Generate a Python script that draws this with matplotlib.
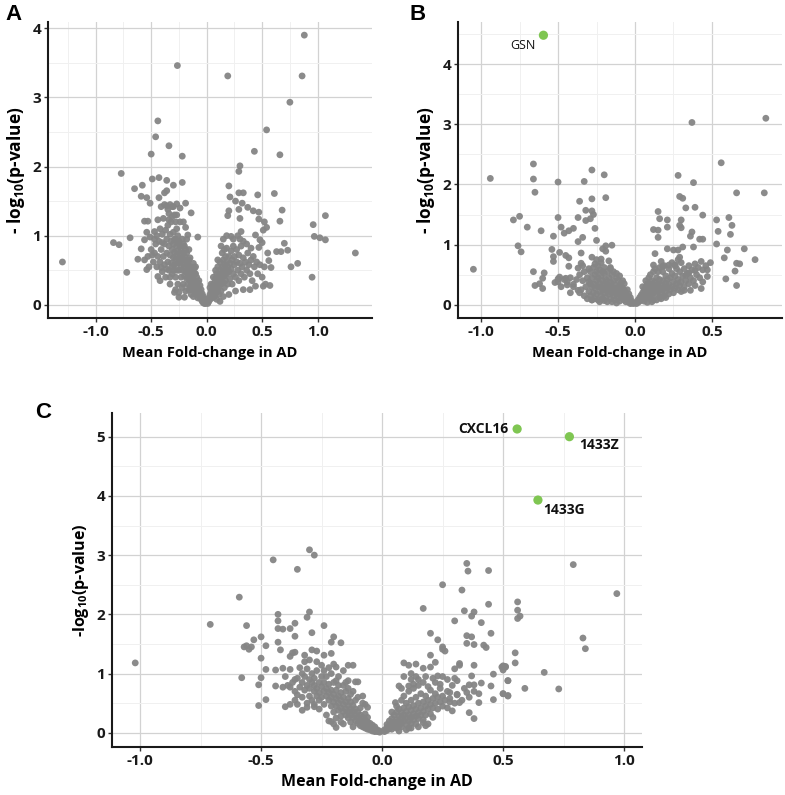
"""
Volcano plots (A, B, C): mean fold-change in AD vs -log10(p-value).
"""
import matplotlib
matplotlib.use("Agg")
import matplotlib.pyplot as plt
import numpy as np

plt.rcParams["font.family"] = ["Open Sans", "DejaVu Sans"]
plt.rcParams["mathtext.fontset"] = "custom"
plt.rcParams["mathtext.rm"] = "Open Sans:bold"
plt.rcParams["mathtext.it"] = "Open Sans:bold"
plt.rcParams["mathtext.bf"] = "Open Sans:bold"

GREY = "#858585"
GREEN = "#7fc652"

# ---- panel A: (fold-change, -log10 p) ----
a_left = [
    (-1.30, 0.62), (-0.84, 0.90), (-0.79, 0.87), (-0.77, 1.90), (-0.72, 0.47),
    (-0.69, 0.97), (-0.65, 1.68), (-0.62, 0.66), (-0.59, 1.57), (-0.59, 0.81),
    (-0.58, 1.73), (-0.56, 1.21), (-0.56, 0.94), (-0.56, 0.65), (-0.54, 1.55),
    (-0.54, 1.05), (-0.54, 0.51), (-0.53, 1.21), (-0.53, 0.70), (-0.52, 0.55),
    (-0.51, 1.47), (-0.51, 0.98), (-0.50, 2.18), (-0.50, 0.80), (-0.49, 1.82),
    (-0.47, 1.06), (-0.46, 2.43), (-0.44, 2.66), (-0.44, 1.23), (-0.44, 0.41),
    (-0.43, 1.84), (-0.43, 1.55), (-0.41, 1.42), (-0.41, 0.54), (-0.38, 1.62),
    (-0.36, 1.80), (-0.36, 1.65), (-0.36, 1.43), (-0.34, 2.30), (-0.34, 1.23),
    (-0.31, 1.28), (-0.30, 1.73), (-0.29, 0.18), (-0.27, 1.46), (-0.264, 3.46),
    (-0.25, 0.11), (-0.22, 2.15), (-0.22, 1.77), (-0.20, 0.11), (-0.19, 1.47),
    (-0.19, 1.12), (-0.17, 1.01), (-0.14, 1.33), (-0.11, 0.53), (-0.08, 0.98),
    (-0.48, 0.62), (-0.47, 0.75), (-0.46, 0.88), (-0.45, 0.55), (-0.45, 1.00),
    (-0.44, 0.70), (-0.43, 0.92), (-0.42, 0.62), (-0.42, 1.10), (-0.41, 0.80),
    (-0.40, 0.48), (-0.40, 1.02), (-0.39, 0.70), (-0.39, 1.25), (-0.38, 0.88),
    (-0.38, 0.58), (-0.37, 1.08), (-0.37, 0.40), (-0.36, 0.75), (-0.36, 0.95),
    (-0.35, 1.15), (-0.35, 0.62), (-0.35, 1.38), (-0.34, 0.85), (-0.34, 0.50),
    (-0.33, 1.02), (-0.33, 0.72), (-0.33, 0.30), (-0.32, 0.92), (-0.32, 1.20),
    (-0.32, 0.60), (-0.31, 0.80), (-0.31, 1.42), (-0.31, 0.45), (-0.30, 1.05),
    (-0.30, 0.68), (-0.30, 0.88), (-0.29, 0.58), (-0.29, 1.30), (-0.29, 0.76),
    (-0.28, 0.95), (-0.28, 0.66), (-0.28, 0.40), (-0.27, 0.85), (-0.27, 0.72),
    (-0.27, 1.10), (-0.26, 0.60), (-0.26, 0.78), (-0.26, 0.30), (-0.25, 0.92),
    (-0.25, 0.68), (-0.25, 0.50), (-0.24, 0.75), (-0.24, 0.62), (-0.24, 1.20),
    (-0.23, 0.55), (-0.23, 0.82), (-0.23, 0.40), (-0.22, 0.68), (-0.22, 0.95),
    (-0.22, 0.50), (-0.21, 0.60), (-0.21, 0.75), (-0.21, 0.30), (-0.20, 0.55),
    (-0.20, 0.85), (-0.20, 0.42), (-0.19, 0.65), (-0.19, 0.48), (-0.19, 0.20),
    (-0.18, 0.58), (-0.18, 0.38), (-0.18, 0.75), (-0.17, 0.50), (-0.17, 0.30),
    (-0.17, 0.62), (-0.16, 0.42), (-0.16, 0.55), (-0.16, 0.22), (-0.15, 0.35),
    (-0.15, 0.48), (-0.15, 0.68), (-0.14, 0.40), (-0.14, 0.28), (-0.14, 0.15),
    (-0.13, 0.35), (-0.13, 0.50), (-0.13, 0.22), (-0.12, 0.30), (-0.12, 0.42),
    (-0.12, 0.12), (-0.11, 0.25), (-0.11, 0.35), (-0.10, 0.20), (-0.10, 0.30),
    (-0.10, 0.45), (-0.09, 0.15), (-0.09, 0.26), (-0.08, 0.20), (-0.08, 0.10),
    (-0.08, 0.32), (-0.07, 0.15), (-0.07, 0.24), (-0.06, 0.10), (-0.06, 0.18),
    (-0.05, 0.08), (-0.05, 0.14), (-0.04, 0.05), (-0.04, 0.10), (-0.03, 0.06),
    (-0.03, 0.03), (-0.02, 0.04), (-0.02, 0.02), (-0.01, 0.02),
    (-0.36, 0.52), (-0.34, 1.32), (-0.33, 0.40), (-0.31, 0.55), (-0.29, 0.95),
    (-0.27, 0.50), (-0.26, 1.00), (-0.24, 0.85), (-0.23, 0.66), (-0.21, 0.88),
    (-0.20, 0.70), (-0.19, 0.80), (-0.18, 0.48), (-0.17, 0.40), (-0.16, 0.65),
    (-0.15, 0.25), (-0.14, 0.55), (-0.13, 0.42), (-0.12, 0.22), (-0.11, 0.45),
    (-0.26, 0.90), (-0.28, 1.20), (-0.30, 0.50), (-0.40, 0.90), (-0.42, 0.35),
    (-0.47, 0.95), (-0.49, 0.72), (-0.38, 1.45), (-0.33, 1.45), (-0.30, 1.42),
    (-0.27, 1.30), (-0.24, 1.40), (-0.21, 1.20), (-0.18, 0.95), (-0.16, 0.80),
    (-0.22, 0.25), (-0.25, 0.18), (-0.28, 0.22), (-0.12, 0.60), (-0.10, 0.55),
    (-0.09, 0.40), (-0.07, 0.35), (-0.06, 0.28), (-0.05, 0.22), (-0.04, 0.16),
    (-0.03, 0.12), (-0.02, 0.08),
]
a_right = [
    (0.19, 3.31), (0.43, 2.22), (0.66, 2.17), (0.30, 2.01), (0.29, 1.93),
    (0.20, 1.72), (0.21, 1.56), (0.29, 1.62), (0.33, 1.62), (0.46, 1.59),
    (0.61, 1.61), (0.26, 1.50), (0.32, 1.47), (0.37, 1.41), (0.20, 1.36),
    (0.19, 1.29), (0.29, 1.38), (0.30, 1.25), (0.42, 1.36), (0.47, 1.34),
    (0.68, 1.37), (0.66, 1.21), (0.47, 1.24), (0.52, 1.20), (0.54, 1.12),
    (0.51, 1.08), (0.96, 1.16), (1.07, 1.29), (0.97, 0.99), (1.02, 0.97),
    (1.07, 0.94), (1.34, 0.75), (0.95, 0.40), (0.70, 0.89), (0.63, 0.77),
    (0.67, 0.77), (0.73, 0.79), (0.76, 0.55), (0.82, 0.60), (0.55, 0.75),
    (0.56, 0.64), (0.58, 0.54), (0.57, 0.28), (0.51, 0.27), (0.44, 0.27),
    (0.39, 0.22), (0.33, 0.22), (0.18, 1.00), (0.22, 0.99), (0.28, 1.00),
    (0.30, 0.95), (0.31, 1.06), (0.44, 1.01), (0.48, 0.94), (0.50, 0.90),
    (0.47, 0.83), (0.54, 2.53), (0.75, 2.93), (0.88, 3.90), (0.86, 3.31),
    (0.01, 0.02), (0.02, 0.05), (0.02, 0.10), (0.03, 0.08), (0.03, 0.15),
    (0.04, 0.12), (0.04, 0.20), (0.05, 0.10), (0.05, 0.18), (0.05, 0.28),
    (0.06, 0.15), (0.06, 0.25), (0.07, 0.20), (0.07, 0.32), (0.07, 0.12),
    (0.08, 0.25), (0.08, 0.38), (0.09, 0.18), (0.09, 0.30), (0.09, 0.45),
    (0.10, 0.22), (0.10, 0.35), (0.10, 0.55), (0.11, 0.28), (0.11, 0.42),
    (0.11, 0.15), (0.12, 0.35), (0.12, 0.50), (0.12, 0.62), (0.13, 0.30),
    (0.13, 0.45), (0.13, 0.20), (0.14, 0.40), (0.14, 0.55), (0.14, 0.75),
    (0.15, 0.32), (0.15, 0.48), (0.15, 0.65), (0.16, 0.25), (0.16, 0.58),
    (0.16, 0.42), (0.17, 0.70), (0.17, 0.35), (0.17, 0.52), (0.18, 0.62),
    (0.18, 0.45), (0.18, 0.82), (0.19, 0.30), (0.19, 0.55), (0.20, 0.70),
    (0.20, 0.48), (0.20, 0.15), (0.21, 0.60), (0.21, 0.38), (0.22, 0.78),
    (0.22, 0.52), (0.23, 0.65), (0.23, 0.30), (0.24, 0.45), (0.24, 0.85),
    (0.25, 0.58), (0.25, 0.70), (0.26, 0.40), (0.26, 0.20), (0.27, 0.62),
    (0.27, 0.80), (0.28, 0.50), (0.29, 0.72), (0.29, 0.35), (0.30, 0.60),
    (0.31, 0.45), (0.31, 0.85), (0.32, 0.55), (0.33, 0.68), (0.34, 0.40),
    (0.35, 0.62), (0.36, 0.50), (0.37, 0.75), (0.38, 0.58), (0.39, 0.45),
    (0.40, 0.65), (0.41, 0.35), (0.42, 0.70), (0.43, 0.55), (0.45, 0.62),
    (0.46, 0.45), (0.48, 0.58), (0.50, 0.40), (0.52, 0.55), (0.53, 0.30),
    (0.06, 0.40), (0.08, 0.50), (0.10, 0.65), (0.13, 0.85), (0.15, 0.95),
    (0.16, 0.80), (0.24, 0.95), (0.33, 0.92), (0.36, 0.88), (0.40, 0.82),
    (0.12, 0.05), (0.15, 0.12), (0.03, 0.25), (0.04, 0.30), (0.09, 0.08),
]

# ---- panel B ----
b_left = [
    (-1.05, 0.59), (-0.94, 2.10), (-0.66, 2.34), (-0.66, 2.09), (-0.65, 1.87),
    (-0.50, 2.04), (-0.28, 2.24), (-0.20, 2.16), (-0.33, 2.05), (-0.36, 1.72),
    (-0.28, 1.76), (-0.19, 1.78), (-0.32, 1.57), (-0.28, 1.56), (-0.27, 1.50),
    (-0.29, 1.43), (-0.37, 1.45), (-0.32, 1.40), (-0.79, 1.41), (-0.75, 1.47),
    (-0.70, 1.29), (-0.61, 1.23), (-0.50, 1.45), (-0.48, 1.29), (-0.46, 1.19),
    (-0.43, 1.23), (-0.40, 1.27), (-0.26, 1.27), (-0.53, 1.14), (-0.34, 1.12),
    (-0.37, 1.05), (-0.25, 1.07), (-0.21, 0.93), (-0.19, 0.98), (-0.15, 0.99),
    (-0.76, 0.98), (-0.74, 0.88), (-0.54, 0.92), (-0.53, 0.80), (-0.53, 0.72),
    (-0.49, 0.87), (-0.45, 0.82), (-0.43, 0.78), (-0.35, 0.86), (-0.28, 0.79),
    (-0.22, 0.76), (-0.19, 0.89), (-0.17, 0.73), (-0.16, 0.62), (-0.66, 0.55),
    (-0.59, 0.53), (-0.60, 0.44), (-0.65, 0.32), (-0.62, 0.35), (-0.60, 0.27),
    (-0.52, 0.37), (-0.50, 0.43), (-0.49, 0.46), (-0.45, 0.44), (-0.44, 0.33),
    (-0.40, 0.34), (-0.42, 0.20), (-0.43, 0.64), (-0.37, 0.61), (-0.35, 0.69),
    (-0.37, 0.24), (-0.28, 0.08),
    (-0.32, 0.30), (-0.31, 0.45), (-0.30, 0.22), (-0.30, 0.38), (-0.29, 0.55),
    (-0.29, 0.15), (-0.28, 0.30), (-0.28, 0.45), (-0.27, 0.20), (-0.27, 0.62),
    (-0.27, 0.35), (-0.26, 0.10), (-0.26, 0.50), (-0.26, 0.28), (-0.25, 0.40),
    (-0.25, 0.18), (-0.25, 0.55), (-0.24, 0.30), (-0.24, 0.08), (-0.24, 0.45),
    (-0.23, 0.22), (-0.23, 0.36), (-0.23, 0.58), (-0.22, 0.15), (-0.22, 0.30),
    (-0.22, 0.48), (-0.21, 0.25), (-0.21, 0.40), (-0.21, 0.10), (-0.20, 0.33),
    (-0.20, 0.20), (-0.20, 0.52), (-0.19, 0.28), (-0.19, 0.42), (-0.19, 0.12),
    (-0.18, 0.22), (-0.18, 0.35), (-0.18, 0.05), (-0.17, 0.30), (-0.17, 0.18),
    (-0.17, 0.45), (-0.16, 0.25), (-0.16, 0.10), (-0.16, 0.38), (-0.15, 0.20),
    (-0.15, 0.30), (-0.15, 0.50), (-0.14, 0.15), (-0.14, 0.26), (-0.14, 0.40),
    (-0.13, 0.08), (-0.13, 0.22), (-0.13, 0.33), (-0.12, 0.18), (-0.12, 0.28),
    (-0.12, 0.45), (-0.11, 0.12), (-0.11, 0.24), (-0.10, 0.18), (-0.10, 0.30),
    (-0.10, 0.06), (-0.09, 0.14), (-0.09, 0.22), (-0.09, 0.36), (-0.08, 0.10),
    (-0.08, 0.18), (-0.08, 0.28), (-0.07, 0.08), (-0.07, 0.15), (-0.07, 0.24),
    (-0.06, 0.05), (-0.06, 0.12), (-0.06, 0.20), (-0.05, 0.08), (-0.05, 0.15),
    (-0.04, 0.04), (-0.04, 0.10), (-0.03, 0.06), (-0.03, 0.02), (-0.02, 0.03),
    (-0.02, 0.06), (-0.01, 0.02), (-0.35, 0.25), (-0.34, 0.40), (-0.33, 0.55),
    (-0.36, 0.50), (-0.38, 0.42), (-0.40, 0.30), (-0.42, 0.45), (-0.44, 0.38),
    (-0.46, 0.42), (-0.48, 0.30), (-0.50, 0.38), (-0.33, 0.15), (-0.31, 0.10),
    (-0.29, 0.35), (-0.26, 0.68), (-0.24, 0.65), (-0.22, 0.70), (-0.20, 0.62),
    (-0.18, 0.55), (-0.16, 0.60), (-0.14, 0.55), (-0.12, 0.52), (-0.11, 0.40),
    (-0.10, 0.48), (-0.05, 0.25), (-0.04, 0.18), (-0.03, 0.12), (-0.28, 0.08),
    (-0.23, 0.05), (-0.20, 0.07), (-0.15, 0.05), (-0.12, 0.03), (-0.36, 0.20),
    (-0.30, 0.60), (-0.34, 0.65), (-0.25, 0.75), (-0.21, 0.55), (-0.08, 0.40),
    (-0.07, 0.35),
]
b_right = [
    (0.56, 2.36), (0.28, 2.15), (0.38, 2.03), (0.66, 1.86), (0.84, 1.86),
    (0.29, 1.80), (0.31, 1.77), (0.15, 1.55), (0.33, 1.61), (0.39, 1.62),
    (0.44, 1.49), (0.16, 1.43), (0.21, 1.41), (0.30, 1.41), (0.21, 1.29),
    (0.29, 1.32), (0.30, 1.28), (0.12, 1.25), (0.15, 1.24), (0.15, 1.12),
    (0.37, 1.21), (0.36, 1.14), (0.42, 1.09), (0.44, 1.09), (0.53, 1.41),
    (0.61, 1.45), (0.63, 1.32), (0.54, 1.22), (0.62, 1.17), (0.53, 1.01),
    (0.21, 0.93), (0.25, 0.91), (0.28, 0.91), (0.31, 0.96), (0.38, 0.96),
    (0.29, 0.79), (0.13, 0.85), (0.60, 0.91), (0.71, 0.93), (0.78, 0.75),
    (0.58, 0.78), (0.66, 0.69), (0.68, 0.68), (0.65, 0.56), (0.59, 0.43),
    (0.66, 0.32), (0.49, 0.70), (0.46, 0.65), (0.47, 0.58), (0.47, 0.47),
    (0.44, 0.38), (0.43, 0.27), (0.39, 0.32), (0.36, 0.24), (0.32, 0.24),
    (0.33, 0.49), (0.17, 0.72), (0.18, 0.64), (0.22, 0.66), (0.12, 0.66),
    (0.26, 0.65), (0.35, 0.53), (0.39, 0.57), (0.37, 3.03), (0.85, 3.10),
    (0.01, 0.02), (0.02, 0.04), (0.02, 0.08), (0.03, 0.06), (0.03, 0.12),
    (0.04, 0.08), (0.04, 0.16), (0.05, 0.10), (0.05, 0.20), (0.06, 0.14),
    (0.06, 0.25), (0.06, 0.06), (0.07, 0.18), (0.07, 0.30), (0.08, 0.12),
    (0.08, 0.24), (0.08, 0.35), (0.09, 0.18), (0.09, 0.28), (0.10, 0.10),
    (0.10, 0.22), (0.10, 0.34), (0.11, 0.16), (0.11, 0.28), (0.11, 0.40),
    (0.12, 0.20), (0.12, 0.32), (0.12, 0.08), (0.13, 0.25), (0.13, 0.38),
    (0.14, 0.18), (0.14, 0.30), (0.14, 0.45), (0.15, 0.22), (0.15, 0.35),
    (0.16, 0.12), (0.16, 0.28), (0.16, 0.42), (0.17, 0.20), (0.17, 0.33),
    (0.18, 0.25), (0.18, 0.40), (0.18, 0.55), (0.19, 0.15), (0.19, 0.30),
    (0.20, 0.22), (0.20, 0.36), (0.20, 0.48), (0.21, 0.28), (0.21, 0.42),
    (0.22, 0.18), (0.22, 0.34), (0.23, 0.25), (0.23, 0.45), (0.24, 0.30),
    (0.24, 0.52), (0.25, 0.20), (0.25, 0.38), (0.26, 0.28), (0.26, 0.48),
    (0.27, 0.35), (0.27, 0.60), (0.28, 0.25), (0.28, 0.42), (0.29, 0.32),
    (0.29, 0.55), (0.30, 0.38), (0.30, 0.22), (0.31, 0.48), (0.32, 0.30),
    (0.32, 0.60), (0.33, 0.40), (0.34, 0.52), (0.35, 0.35), (0.35, 0.65),
    (0.36, 0.45), (0.37, 0.58), (0.38, 0.40), (0.39, 0.68), (0.40, 0.50),
    (0.41, 0.62), (0.42, 0.45), (0.43, 0.72), (0.44, 0.58), (0.05, 0.30),
    (0.07, 0.40), (0.09, 0.45), (0.10, 0.50), (0.12, 0.55), (0.13, 0.60),
    (0.15, 0.55), (0.16, 0.62), (0.19, 0.65), (0.22, 0.60), (0.24, 0.70),
    (0.26, 0.66), (0.28, 0.75), (0.30, 0.70), (0.14, 0.08), (0.17, 0.10),
    (0.20, 0.12), (0.08, 0.04), (0.11, 0.05),
]
b_hits = [(-0.595, 4.48)]
b_hit_names = ["GSN"]

# ---- panel C ----
c_left = [
    (-1.02, 1.18), (-0.59, 2.29), (-0.71, 1.83), (-0.56, 1.81), (-0.53, 1.57),
    (-0.50, 1.62), (-0.57, 1.45), (-0.56, 1.47), (-0.55, 1.41), (-0.54, 1.45),
    (-0.50, 1.26), (-0.58, 0.93), (-0.50, 0.93), (-0.51, 0.81), (-0.51, 0.46),
    (-0.45, 2.92), (-0.30, 3.09), (-0.28, 3.00), (-0.35, 2.76), (-0.48, 0.56),
    (-0.43, 2.00), (-0.43, 1.89), (-0.43, 1.76), (-0.41, 1.75), (-0.38, 1.76),
    (-0.36, 1.85), (-0.31, 1.95), (-0.30, 2.04), (-0.24, 1.81), (-0.29, 1.69),
    (-0.36, 1.63), (-0.20, 1.62), (-0.21, 1.53), (-0.17, 1.52), (-0.48, 1.47),
    (-0.43, 1.53), (-0.42, 1.40), (-0.37, 1.35), (-0.38, 1.29), (-0.36, 1.36),
    (-0.32, 1.31), (-0.32, 1.20), (-0.29, 1.40), (-0.27, 1.38), (-0.24, 1.31),
    (-0.21, 1.34), (-0.30, 1.23), (-0.25, 1.14), (-0.20, 1.16), (-0.19, 1.11),
    (-0.14, 1.14), (-0.12, 1.14), (-0.16, 1.05), (-0.48, 1.07), (-0.44, 1.06),
    (-0.41, 1.09), (-0.38, 1.07), (-0.44, 0.79), (-0.41, 0.77), (-0.38, 0.77),
    (-0.36, 0.90), (-0.34, 0.77), (-0.35, 0.64), (-0.36, 0.55), (-0.40, 0.44),
    (-0.38, 0.48), (-0.35, 0.48), (-0.33, 0.38), (-0.31, 0.43), (-0.28, 0.44),
    (-0.28, 0.48), (-0.19, 0.09), (-0.21, 0.19), (-0.11, 0.86), (-0.10, 0.86),
    (-0.14, 0.88), (-0.08, 0.62), (-0.07, 0.48), (-0.06, 0.43),
    (-0.33, 0.85), (-0.33, 1.00), (-0.32, 0.72), (-0.32, 0.95), (-0.31, 0.80),
    (-0.31, 1.08), (-0.30, 0.62), (-0.30, 0.90), (-0.30, 0.75), (-0.29, 0.85),
    (-0.29, 1.00), (-0.29, 0.55), (-0.28, 0.70), (-0.28, 0.92), (-0.28, 0.80),
    (-0.27, 0.62), (-0.27, 1.05), (-0.27, 0.75), (-0.26, 0.85), (-0.26, 0.55),
    (-0.26, 0.68), (-0.25, 0.78), (-0.25, 0.95), (-0.25, 0.60), (-0.24, 0.70),
    (-0.24, 0.48), (-0.24, 0.85), (-0.23, 0.62), (-0.23, 0.75), (-0.23, 0.95),
    (-0.22, 0.55), (-0.22, 0.68), (-0.22, 0.82), (-0.21, 0.45), (-0.21, 0.60),
    (-0.21, 0.72), (-0.20, 0.52), (-0.20, 0.65), (-0.20, 0.85), (-0.20, 0.35),
    (-0.19, 0.58), (-0.19, 0.45), (-0.19, 0.72), (-0.18, 0.50), (-0.18, 0.62),
    (-0.18, 0.38), (-0.18, 0.80), (-0.17, 0.42), (-0.17, 0.55), (-0.17, 0.68),
    (-0.17, 0.28), (-0.16, 0.48), (-0.16, 0.36), (-0.16, 0.60), (-0.15, 0.40),
    (-0.15, 0.52), (-0.15, 0.30), (-0.15, 0.70), (-0.14, 0.35), (-0.14, 0.46),
    (-0.14, 0.25), (-0.14, 0.58), (-0.13, 0.30), (-0.13, 0.40), (-0.13, 0.52),
    (-0.13, 0.18), (-0.12, 0.26), (-0.12, 0.36), (-0.12, 0.46), (-0.11, 0.20),
    (-0.11, 0.30), (-0.11, 0.40), (-0.11, 0.55), (-0.10, 0.16), (-0.10, 0.25),
    (-0.10, 0.35), (-0.09, 0.12), (-0.09, 0.20), (-0.09, 0.30), (-0.09, 0.42),
    (-0.08, 0.10), (-0.08, 0.18), (-0.08, 0.26), (-0.07, 0.08), (-0.07, 0.14),
    (-0.07, 0.22), (-0.07, 0.32), (-0.06, 0.06), (-0.06, 0.12), (-0.06, 0.18),
    (-0.06, 0.26), (-0.05, 0.05), (-0.05, 0.10), (-0.05, 0.16), (-0.04, 0.03),
    (-0.04, 0.08), (-0.04, 0.13), (-0.03, 0.02), (-0.03, 0.06), (-0.03, 0.10),
    (-0.02, 0.02), (-0.02, 0.05), (-0.01, 0.01), (-0.01, 0.03), (-0.35, 0.92),
    (-0.34, 1.10), (-0.36, 0.70), (-0.37, 0.85), (-0.39, 0.80), (-0.40, 0.95),
    (-0.33, 0.60), (-0.31, 0.50), (-0.26, 0.40), (-0.23, 0.30), (-0.22, 0.20),
    (-0.19, 0.25), (-0.16, 0.15), (-0.13, 0.65), (-0.12, 0.70), (-0.10, 0.60),
    (-0.08, 0.50), (-0.16, 0.80), (-0.18, 0.95), (-0.21, 1.00), (-0.24, 1.05),
    (-0.27, 1.20), (-0.22, 1.10), (-0.19, 0.88), (-0.15, 0.85), (-0.14, 0.75),
    (-0.17, 0.18), (-0.20, 0.15), (-0.12, 0.10),
]
c_right = [
    (0.35, 2.86), (0.355, 2.73), (0.44, 2.74), (0.25, 2.50), (0.33, 2.41),
    (0.17, 2.10), (0.34, 2.06), (0.38, 2.04), (0.37, 1.97), (0.30, 1.89),
    (0.41, 1.86), (0.44, 2.17), (0.20, 1.68), (0.23, 1.57), (0.25, 1.45),
    (0.25, 1.41), (0.26, 1.38), (0.35, 1.64), (0.37, 1.62), (0.35, 1.51),
    (0.38, 1.49), (0.42, 1.48), (0.43, 1.44), (0.45, 1.68), (0.20, 1.31),
    (0.22, 1.19), (0.09, 1.18), (0.11, 1.14), (0.14, 1.16), (0.17, 1.09),
    (0.20, 1.11), (0.32, 1.14), (0.32, 1.17), (0.30, 1.08), (0.38, 1.14),
    (0.12, 0.90), (0.15, 0.90), (0.18, 0.95), (0.23, 0.96), (0.21, 0.92),
    (0.30, 0.92), (0.31, 0.88), (0.37, 0.96), (0.36, 0.81), (0.38, 0.81),
    (0.41, 0.84), (0.46, 0.99), (0.50, 1.13), (0.51, 1.12), (0.45, 0.79),
    (0.52, 0.88), (0.50, 0.66), (0.52, 0.62), (0.46, 0.56), (0.40, 0.66),
    (0.40, 0.51), (0.35, 0.68), (0.31, 0.64), (0.28, 0.68), (0.28, 0.52),
    (0.32, 0.51), (0.29, 0.37), (0.36, 0.34), (0.38, 0.24), (0.24, 0.82),
    (0.21, 0.26), (0.17, 0.17), (0.19, 0.15), (0.11, 0.08), (0.08, 0.75),
    (0.07, 0.79), (0.11, 0.79), (0.13, 0.82), (0.055, 0.51),
    (0.79, 2.84), (0.97, 2.35), (0.56, 2.21), (0.56, 2.07), (0.57, 1.97),
    (0.56, 1.93), (0.83, 1.60), (0.84, 1.42), (0.55, 1.35), (0.55, 1.18),
    (0.495, 1.11), (0.51, 1.11), (0.50, 1.06), (0.67, 1.02), (0.52, 0.88),
    (0.50, 0.66), (0.52, 0.63), (0.59, 0.75), (0.73, 0.74),
    (0.01, 0.02), (0.01, 0.05), (0.02, 0.04), (0.02, 0.09), (0.02, 0.14),
    (0.03, 0.07), (0.03, 0.12), (0.03, 0.20), (0.04, 0.06), (0.04, 0.15),
    (0.04, 0.24), (0.05, 0.10), (0.05, 0.18), (0.05, 0.30), (0.06, 0.08),
    (0.06, 0.14), (0.06, 0.22), (0.06, 0.35), (0.07, 0.12), (0.07, 0.20),
    (0.07, 0.28), (0.07, 0.40), (0.08, 0.16), (0.08, 0.25), (0.08, 0.34),
    (0.08, 0.10), (0.09, 0.20), (0.09, 0.30), (0.09, 0.42), (0.10, 0.14),
    (0.10, 0.25), (0.10, 0.36), (0.10, 0.50), (0.11, 0.20), (0.11, 0.30),
    (0.11, 0.44), (0.12, 0.16), (0.12, 0.26), (0.12, 0.38), (0.12, 0.55),
    (0.13, 0.22), (0.13, 0.32), (0.13, 0.46), (0.14, 0.28), (0.14, 0.40),
    (0.14, 0.60), (0.14, 0.15), (0.15, 0.34), (0.15, 0.50), (0.15, 0.24),
    (0.16, 0.42), (0.16, 0.30), (0.16, 0.66), (0.17, 0.36), (0.17, 0.52),
    (0.17, 0.22), (0.18, 0.45), (0.18, 0.62), (0.18, 0.30), (0.19, 0.40),
    (0.19, 0.55), (0.20, 0.48), (0.20, 0.72), (0.20, 0.32), (0.21, 0.58),
    (0.21, 0.42), (0.22, 0.50), (0.22, 0.66), (0.23, 0.40), (0.23, 0.60),
    (0.24, 0.52), (0.24, 0.75), (0.25, 0.45), (0.25, 0.62), (0.26, 0.55),
    (0.27, 0.70), (0.27, 0.42), (0.28, 0.58), (0.29, 0.80), (0.30, 0.50),
    (0.31, 0.65), (0.33, 0.55), (0.34, 0.75), (0.36, 0.60), (0.38, 0.70),
    (0.04, 0.35), (0.06, 0.45), (0.08, 0.55), (0.09, 0.62), (0.11, 0.70),
    (0.13, 0.75), (0.15, 0.80), (0.17, 0.85), (0.19, 0.78), (0.22, 0.85),
    (0.10, 0.05), (0.12, 0.08), (0.15, 0.10), (0.18, 0.12), (0.07, 0.03),
    (0.09, 0.95), (0.12, 1.00), (0.14, 0.95), (0.25, 0.95), (0.27, 0.90),
]
c_hits = [(0.558, 5.13), (0.774, 5.00), (0.644, 3.93)]
c_hit_names = ["CXCL16", "1433Z", "1433G"]

x_ticks = {"A": [-1.0, -0.5, 0.0, 0.5, 1.0], "B": [-1.0, -0.5, 0.0, 0.5],
           "C": [-1.0, -0.5, 0.0, 0.5, 1.0]}
y_ticks = {"A": [0, 1, 2, 3, 4], "B": [0, 1, 2, 3, 4], "C": [0, 1, 2, 3, 4, 5]}


def style_axes(ax, xticks, yticks, xlim, ylim):
    ax.set_xticks(xticks)
    ax.set_xticklabels([f"{t:.1f}" for t in xticks])
    ax.set_yticks(yticks)
    ax.set_yticklabels([str(t) for t in yticks])
    ax.set_xticks([t + 0.25 for t in xticks[:-1]] + [xticks[0] - 0.25], minor=True)
    ax.set_yticks([t + 0.5 for t in yticks] + [-0.5], minor=True)
    ax.set_xlim(*xlim)
    ax.set_ylim(*ylim)
    ax.grid(True, which="major", color="#d2d2d2", lw=0.9)
    ax.grid(True, which="minor", color="#f0f0f0", lw=0.7)
    ax.set_axisbelow(True)
    for s in ("top", "right"):
        ax.spines[s].set_visible(False)
    for s in ("left", "bottom"):
        ax.spines[s].set_linewidth(1.5)
        ax.spines[s].set_color("#1a1a1a")
    ax.tick_params(which="major", length=3, width=1, color="#333333", pad=2,
                   labelsize=11, labelcolor="#1a1a1a")
    ax.tick_params(which="minor", length=0)
    plt.setp(ax.get_xticklabels() + ax.get_yticklabels(), fontweight="bold")


def scatter(ax, *groups):
    for g in groups:
        xs, ys = zip(*g)
        ax.scatter(xs, ys, s=24, color=GREY, edgecolors="none", alpha=0.95, zorder=3)


fig = plt.figure(figsize=(7.85, 7.95), dpi=100)
W, H = 785.0, 795.0


def box(l, t, r, b):
    return [l / W, 1 - b / H, (r - l) / W, (b - t) / H]


ax_a = fig.add_axes(box(48, 22, 372, 318))
ax_b = fig.add_axes(box(458, 22, 782, 318))
ax_c = fig.add_axes(box(112, 413, 642, 747))

scatter(ax_a, a_left, a_right)
style_axes(ax_a, x_ticks["A"], y_ticks["A"], (-1.43, 1.49), (-0.19, 4.09))

scatter(ax_b, b_left, b_right)
hx, hy = zip(*b_hits)
ax_b.scatter(hx, hy, s=44, color=GREEN, edgecolors="none", zorder=4)
ax_b.text(hx[0] - 0.05, hy[0] - 0.17, b_hit_names[0], ha="right", va="center",
          fontsize=9, color="#111111")
style_axes(ax_b, x_ticks["B"], y_ticks["B"], (-1.15, 0.955), (-0.22, 4.7))

scatter(ax_c, c_left, c_right)
hx, hy = zip(*c_hits)
ax_c.scatter(hx, hy, s=44, color=GREEN, edgecolors="none", zorder=4)
lab = dict(fontsize=10, fontweight="bold", color="#111111")
ax_c.text(hx[0] - 0.035, hy[0], c_hit_names[0], ha="right", va="center", **lab)
ax_c.text(hx[1] + 0.04, hy[1] - 0.03, c_hit_names[1], ha="left", va="top", **lab)
ax_c.text(hx[2] + 0.02, hy[2] - 0.05, c_hit_names[2], ha="left", va="top", **lab)
style_axes(ax_c, x_ticks["C"], y_ticks["C"], (-1.116, 1.074), (-0.24, 5.4))

for ax in (ax_a, ax_b):
    ax.set_xlabel("Mean Fold-change in AD", fontsize=10.5, fontweight="bold", labelpad=5)
    ax.set_ylabel(r"- log$_{10}$(p-value)", fontsize=12.5, fontweight="bold", labelpad=4)
ax_c.set_xlabel("Mean Fold-change in AD", fontsize=11.5, fontweight="bold", labelpad=4)
ax_c.set_ylabel(r"-log$_{10}$(p-value)", fontsize=11.5, fontweight="bold", labelpad=4)

for letter, (px, py) in {"A": (14, 15), "B": (418, 14), "C": (43, 412)}.items():
    fig.text(px / W, 1 - py / H, letter, ha="center", va="center", fontsize=16,
             fontweight="bold", family=["Liberation Sans", "DejaVu Sans"])

fig.savefig("out.png", dpi=100, facecolor="white")
